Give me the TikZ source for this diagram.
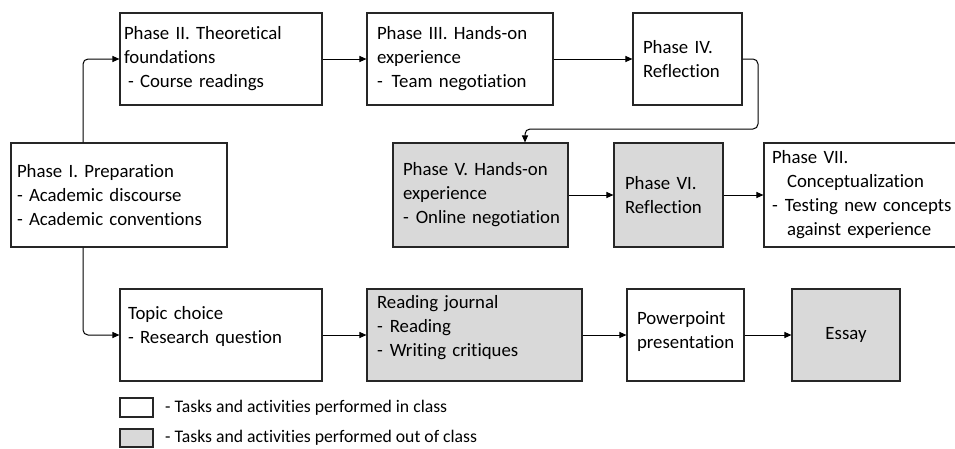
\documentclass[tikz,border=0pt]{standalone}
\usepackage{fontspec}
\setmainfont{Carlito}[Ligatures=NoCommon]
\usepackage{xcolor}
\usepackage{tikz}
\usetikzlibrary{arrows.meta}
\definecolor{outgray}{HTML}{D9D9D9}
\hyphenpenalty=10000
\exhyphenpenalty=10000

\begin{document}
\begin{tikzpicture}[x=1pt, y=-1pt,
    font=\fontsize{18.8}{24}\selectfont,
    box/.style={draw=black!85, line width=1.1pt, align=left, inner xsep=10pt, inner ysep=0pt},
    outbox/.style={box, fill=outgray},
    flow/.style={-{Triangle[length=7pt,width=6pt]}, line width=1pt, rounded corners=5pt}]
    \useasboundingbox (0,0) rectangle (955,448);

        \node[box, inner xsep=6pt, text width=204pt, minimum height=104pt] (p1) at (119,195) {Phase I. Preparation\\- Academic discourse\\- Academic conventions};
        \node[box, inner xsep=4pt, text width=194pt, minimum height=92pt] (p2) at (221,59) {Phase II. Theoretical\\foundations\\\hspace*{4pt}- Course readings};
        \node[box, text width=166pt, minimum height=92pt] (p3) at (460,59) {Phase III. Hands-on\\experience\\-\hspace{9pt}Team negotiation};
        \node[box, text width=89pt, minimum height=92pt] (p4) at (687.5,59) {Phase IV.\\Reflection};
        \node[outbox, text width=155pt, minimum height=104pt] (p5) at (480.5,195) {Phase V. Hands-on\\experience\\\mbox{-\hspace{7pt}Online negotiation}};
        \node[outbox, inner xsep=11pt, text width=87pt, minimum height=104pt] (p6) at (668.5,195) {Phase VI.\\Reflection};
        \node[box, inner xsep=8pt, text width=184pt, minimum height=104pt] (p7) at (864,195) {Phase VII.\\\hspace*{15pt}Conceptualization\\\mbox{-\hspace{7pt}Testing new concepts}\\\hspace*{15pt}against experience};

        \node[box, inner xsep=8pt, text width=186pt, minimum height=92pt, text depth=44pt] (b1) at (221,335) {Topic choice\\- Research question};
        \node[outbox, text width=195pt, minimum height=92pt, text depth=66pt] (b2) at (474.5,335) {Reading journal\\-\hspace{7pt}Reading\\-\hspace{7pt}Writing critiques};
        \node[box, text width=97pt, minimum height=92pt, text depth=34pt] (b3) at (685.5,335) {Powerpoint\\presentation};
        \node[outbox, align=center, text width=88pt, minimum height=92pt] (b4) at (846,335) {Essay};

        \coordinate (sp) at (83,0);
        \coordinate (dn) at (758,129);
        \coordinate (lf) at (525,129);

        \draw[flow] (p1.north -| sp) |- (p2.west);
        \draw[flow] (p1.south -| sp) |- (b1.west);
        \draw[flow] (p2.east) -- (p3.west);
        \draw[flow] (p3.east) -- (p4.west);
        \draw[flow] (p4.east) -| (dn) -- (lf) -- (lf |- p5.north);
        \draw[flow] (p5.east) -- (p6.west);
        \draw[flow] (p6.east) -- (p7.west);
        \draw[flow] (b1.east) -- (b2.west);
        \draw[flow] (b2.east) -- (b3.west);
        \draw[flow] (b3.east) -- (b4.west);

        \node[box, minimum width=33pt, minimum height=19pt, inner xsep=0pt] (l1) at (136.5,407.5) {};
        \node[outbox, minimum width=33pt, minimum height=18pt, inner xsep=0pt] (l2) at (136.5,438) {};
        \node[anchor=west, inner sep=3pt, font=\fontsize{17.7}{20}\selectfont] (t1) at (162,407.5) {- Tasks and activities performed in class};
        \node[anchor=west, inner sep=3pt, font=\fontsize{17.7}{20}\selectfont] (t2) at (162,438) {- Tasks and activities performed out of class};
\end{tikzpicture}
\end{document}
